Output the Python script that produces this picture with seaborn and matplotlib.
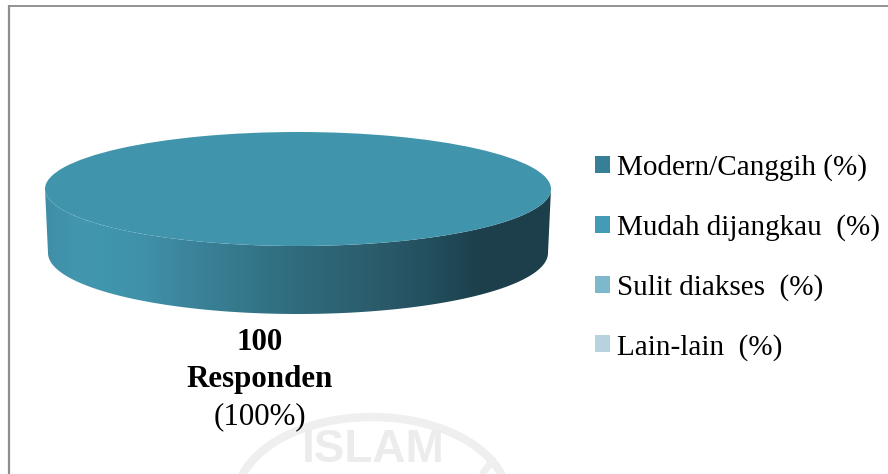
import numpy as np
import matplotlib
matplotlib.use("Agg")
import matplotlib.pyplot as plt
import seaborn as sns
from matplotlib.colors import LinearSegmentedColormap
from matplotlib.patches import Patch, PathPatch, Arc
from matplotlib.path import Path

categories = ["Modern/Canggih (%)", "Mudah dijangkau  (%)", "Sulit diakses  (%)", "Lain-lain  (%)"]
values = [0, 100, 0, 0]
legend_colors = ["#367f96", "#439cb5", "#7db8cd", "#b6d3df"]
top_color = "#4095ac"
label_lines = ["100", "Responden", "(100%)"]

sns.set_theme(style="white")
plt.rcParams["font.family"] = ["Liberation Serif", "DejaVu Serif"]

W, H = 888, 474
fig = plt.figure(figsize=(W / 100, H / 100), dpi=100, facecolor="white")

# page-level axes in pixels for frame, watermark and labels
bg = fig.add_axes([0, 0, 1, 1])
bg.set_xlim(0, W)
bg.set_ylim(H, 0)
bg.axis("off")
bg.plot([9, 9], [474, 5], color="#8f8f8f", lw=1.6, solid_capstyle="butt")
bg.plot([9, 888], [5.5, 5.5], color="#8a8a8a", lw=1.3, solid_capstyle="butt")

# faint watermark
bg.add_patch(Arc((372, 500), 272, 166, theta1=180, theta2=360, color="#efefef", lw=6))
bg.text(373, 450, "ISLAM", ha="center", va="center", color="#ececec", fontsize=33,
        family="Liberation Sans", fontweight="bold")
bg.plot([483, 493], [473, 460], color="#efefef", lw=5)

# disc axes: x runs -1..1 over the disc width, y in units of the top semi-minor axis
L, R, T, B = 45, 551, 132, 318
cy = 189
b = 57.0
ax = fig.add_axes([L / W, 1 - B / H, (R - L) / W, (B - T) / H])
ax.patch.set_alpha(0)

wedges, _ = ax.pie(values, colors=legend_colors, startangle=90, counterclock=False,
                   radius=1, wedgeprops={"linewidth": 0})
wedges[1].set_facecolor(top_color)
for w in wedges:
    w.set_zorder(3)
ax.set_aspect("auto")
ax.axis("off")

# side wall
t = np.linspace(np.pi, 2 * np.pi, 200)
xt = np.cos(t)
yt = np.sin(t)
a_low = 250 / 253
y0_low = -(253 - cy) / b
b_low = 61 / b
xb = a_low * np.cos(t[::-1])
yb = y0_low + b_low * np.sin(t[::-1])
verts = np.column_stack([np.r_[xt, xb, xt[0]], np.r_[yt, yb, yt[0]]])
codes = [Path.MOVETO] + [Path.LINETO] * (len(verts) - 2) + [Path.CLOSEPOLY]
clip = PathPatch(Path(verts, codes), transform=ax.transData, fc="none", ec="none")
ax.add_patch(clip)
cmap = LinearSegmentedColormap.from_list("wall", [
    (0.00, "#3f8ea6"), (0.06, "#4296ae"), (0.12, "#4096ad"), (0.20, "#3f90a8"),
    (0.31, "#3a8197"), (0.50, "#2f6b7c"), (0.66, "#2b5b6b"), (0.76, "#234f5e"),
    (0.86, "#1c404c"), (1.00, "#1c3f4b")])
ylow = -(B - cy) / b
im = ax.imshow(np.linspace(0, 1, 512)[None, :], cmap=cmap, aspect="auto",
               extent=[-1, 1, ylow, 0], zorder=1)
im.set_clip_path(clip)
ax.set_xlim(-1, 1)
ax.set_ylim(ylow, (cy - T) / b)

# label
bg.text(260, 342, label_lines[0], ha="center", va="center", fontsize=22.3, fontweight="bold", color="black")
bg.text(260, 379, label_lines[1], ha="center", va="center", fontsize=22.3, fontweight="bold", color="black")
bg.text(260, 417, label_lines[2], ha="center", va="center", fontsize=22.3, color="black")

# legend
handles = [Patch(facecolor=c, edgecolor="none") for c in legend_colors]
leg = fig.legend(handles, categories, loc="upper left", bbox_to_anchor=(595 / W, 1 - 154 / H),
                 bbox_transform=fig.transFigure, frameon=False, fontsize=21, borderaxespad=0,
                 borderpad=0, handlelength=0.515, handleheight=0.515, handletextpad=0.24,
                 labelspacing=1.13, labelcolor="black")

fig.savefig("out.png", dpi=100, facecolor="white")
